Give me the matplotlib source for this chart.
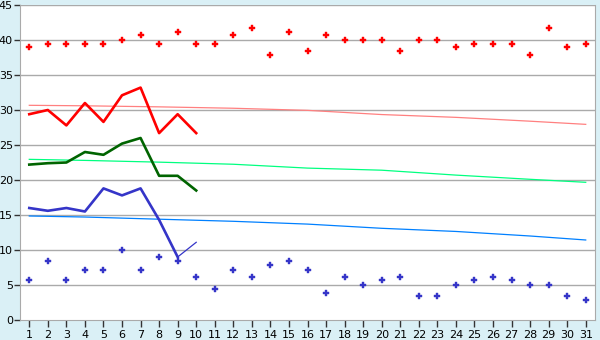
import matplotlib
matplotlib.use("Agg")
import matplotlib.pyplot as plt

days = list(range(1, 32))

# scattered daily points
red_pts = [39.0, 39.4, 39.4, 39.4, 39.4, 40.0, 40.7, 39.4, 41.1, 39.4,
           39.4, 40.7, 41.7, 37.8, 41.1, 38.4, 40.7, 40.0, 40.0, 40.0,
           38.4, 40.0, 40.0, 39.0, 39.4, 39.4, 39.4, 37.8, 41.7, 39.0, 39.4]
blue_pts = [5.7, 8.4, 5.7, 7.2, 7.2, 10.0, 7.2, 9.0, 8.4, 6.1,
            4.4, 7.2, 6.1, 7.8, 8.4, 7.2, 3.9, 6.1, 5.0, 5.7,
            6.1, 3.4, 3.4, 5.0, 5.7, 6.1, 5.7, 5.0, 5.0, 3.4, 2.8]

# lines for the first ten days
line_days = list(range(1, 11))
red_line = [29.4, 30.0, 27.8, 31.0, 28.3, 32.1, 33.2, 26.7, 29.4, 26.7]
green_line = [22.2, 22.4, 22.5, 24.0, 23.6, 25.2, 26.0, 20.6, 20.6, 18.5]
blue_line = [16.0, 15.6, 16.0, 15.5, 18.8, 17.8, 18.8, 14.3, 9.0, 11.1]

# trend curves read at some days
trend_days = [1, 4, 8, 12, 16, 20, 24, 28, 31]
pink_trend = [30.67, 30.6, 30.45, 30.25, 29.95, 29.35, 28.95, 28.4, 27.95]
green_trend = [22.95, 22.8, 22.55, 22.25, 21.7, 21.4, 20.7, 20.1, 19.67]
blue_trend = [14.86, 14.71, 14.4, 14.1, 13.7, 13.1, 12.65, 12.0, 11.43]

bg = "#DAF0F6"
grid = "#AAAAAA"

fig = plt.figure(figsize=(6, 3.4), dpi=100, facecolor=bg)
ax = fig.add_axes([20/600, 20/340, 575/600, 315/340])
ax.set_facecolor("white")

for v in range(5, 50, 5):
    ax.axhline(v, color=grid, lw=1, zorder=1)

ax.plot(trend_days, pink_trend, color="#FF8080", lw=0.9, zorder=2)
ax.plot(trend_days, green_trend, color="#00FF80", lw=0.9, zorder=2)
ax.plot(trend_days, blue_trend, color="#0080FF", lw=0.9, zorder=2)

ax.plot(line_days, red_line, color="#FF0000", lw=1.9, zorder=3)
ax.plot(line_days, green_line, color="#006400", lw=1.9, zorder=3)
ax.plot(line_days[:9], blue_line[:9], color="#3535C8", lw=1.9, zorder=3)
ax.plot(line_days[8:], blue_line[8:], color="#3535C8", lw=0.9, zorder=3)

ax.plot(days, red_pts, ls="none", marker="P", ms=5, color="#FF0000",
        mew=0.3, zorder=4)
ax.plot(days, blue_pts, ls="none", marker="P", ms=5, color="#3535C8",
        mew=0.3, zorder=4)

ax.set_xlim(0.5, 31.5)
ax.set_ylim(0, 45)
ax.set_xticks(days)
ax.set_yticks(range(0, 50, 5))
ax.tick_params(axis="x", length=5, width=1, color="#333333", labelsize=8, pad=2)
ax.tick_params(axis="y", length=4, width=1, color="#333333", labelsize=8, pad=1)
for s in ["left", "bottom", "right"]:
    ax.spines[s].set_color(grid)
ax.spines["top"].set_visible(False)

fig.savefig("out.png", dpi=100, facecolor=bg)
